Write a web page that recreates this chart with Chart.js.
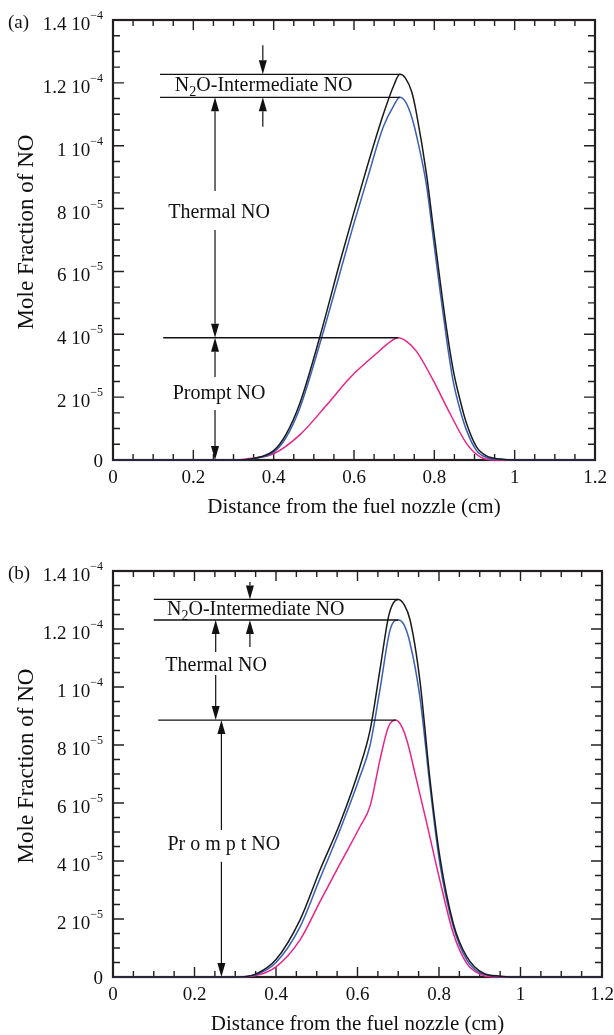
<!DOCTYPE html>
<html>
<head>
<meta charset="utf-8">
<script src="https://cdn.jsdelivr.net/npm/chart.js@4.4.1/dist/chart.umd.min.js"></script>
<style>
  html, body { margin: 0; padding: 0; background: #fff; }
  canvas { display: block; }
</style>
</head>
<body>
<canvas id="chartA" width="614" height="518"></canvas>
<canvas id="chartB" width="614" height="517"></canvas>
<script>
// mole fractions below are in units of 1e-4
const Y_UNIT = 1e-4;

const xTicks = [0, 0.2, 0.4, 0.6, 0.8, 1, 1.2];
const xTickLabels = ["0", "0.2", "0.4", "0.6", "0.8", "1", "1.2"];
const yTicks = [0, 2e-5, 4e-5, 6e-5, 8e-5, 1e-4, 1.2e-4, 1.4e-4];
const yTickMantissa = ["0", "2", "4", "6", "8", "1", "1.2", "1.4"];
const yTickExponent = ["", "\u22125", "\u22125", "\u22125", "\u22125", "\u22124", "\u22124", "\u22124"];

// (a) total NO (black), thermal + prompt (blue), prompt (pink)
const xTotalA = [0, 0.30, 0.35, 0.40, 0.43, 0.465, 0.515, 0.565, 0.598, 0.632, 0.673, 0.70, 0.714, 0.728, 0.744, 0.756, 0.781, 0.797, 0.814, 0.831, 0.847, 0.864, 0.880, 0.905, 0.930, 0.963, 1.0, 1.2];
const yTotalA = [0, 0, 0.005, 0.03, 0.08, 0.18, 0.392, 0.63, 0.78, 0.93, 1.10, 1.195, 1.227, 1.215, 1.17, 1.10, 0.905, 0.742, 0.573, 0.413, 0.286, 0.191, 0.117, 0.042, 0.013, 0.003, 0, 0];
const xThermalA = [0, 0.30, 0.35, 0.40, 0.43, 0.465, 0.515, 0.565, 0.598, 0.632, 0.673, 0.70, 0.714, 0.728, 0.744, 0.756, 0.781, 0.797, 0.814, 0.831, 0.847, 0.864, 0.880, 0.905, 0.930, 0.963, 1.0, 1.2];
const yThermalA = [0, 0, 0.004, 0.025, 0.07, 0.165, 0.37, 0.595, 0.745, 0.89, 1.06, 1.13, 1.154, 1.14, 1.09, 1.03, 0.87, 0.71, 0.54, 0.38, 0.25, 0.16, 0.095, 0.03, 0.008, 0.002, 0, 0];
const xPromptA = [0, 0.30, 0.34, 0.40, 0.465, 0.532, 0.590, 0.656, 0.690, 0.710, 0.730, 0.756, 0.797, 0.839, 0.880, 0.914, 0.95, 1.2];
const yPromptA = [0, 0, 0.005, 0.02, 0.08, 0.175, 0.262, 0.339, 0.376, 0.389, 0.378, 0.345, 0.254, 0.148, 0.053, 0.01, 0, 0];

// (b)
const xTotalB = [0, 0.30, 0.35, 0.40, 0.459, 0.508, 0.557, 0.606, 0.631, 0.655, 0.676, 0.688, 0.70, 0.714, 0.729, 0.753, 0.778, 0.802, 0.835, 0.868, 0.909, 0.95, 1.0, 1.2];
const yTotalB = [0, 0, 0.01, 0.06, 0.197, 0.369, 0.530, 0.725, 0.852, 1.059, 1.242, 1.29, 1.302, 1.285, 1.231, 1.024, 0.679, 0.415, 0.185, 0.070, 0.013, 0.003, 0, 0];
const xThermalB = [0, 0.30, 0.35, 0.40, 0.459, 0.508, 0.557, 0.606, 0.631, 0.655, 0.680, 0.70, 0.714, 0.729, 0.753, 0.778, 0.802, 0.835, 0.868, 0.90, 0.95, 1.0, 1.2];
const yThermalB = [0, 0, 0.008, 0.05, 0.173, 0.34, 0.507, 0.691, 0.80, 0.990, 1.197, 1.231, 1.215, 1.151, 0.967, 0.656, 0.392, 0.174, 0.059, 0.015, 0.002, 0, 0];
const xPromptB = [0, 0.30, 0.35, 0.40, 0.459, 0.508, 0.557, 0.606, 0.631, 0.655, 0.676, 0.694, 0.708, 0.721, 0.745, 0.770, 0.802, 0.835, 0.868, 0.90, 0.93, 1.2];
const yPromptB = [0, 0, 0.005, 0.035, 0.128, 0.26, 0.39, 0.518, 0.59, 0.748, 0.863, 0.886, 0.865, 0.817, 0.679, 0.530, 0.334, 0.151, 0.047, 0.01, 0, 0];

const AXIS_COLOR = "#231f20";
const LINE_COLORS = ["#1a1a1a", "#3a5fb4", "#ec2387"];
const FONT = '"Liberation Serif", "Times New Roman", serif';

function peakOf(xs, ys) {
  const i = ys.indexOf(Math.max(...ys));
  return { x: xs[i], y: ys[i] * Y_UNIT };
}

function drawArrow(ctx, x, y0, y1) {
  const dir = y1 > y0 ? 1 : -1;
  const head = 14, half = 4;
  ctx.beginPath();
  ctx.moveTo(x, y0);
  ctx.lineTo(x, y1 - dir * head);
  ctx.stroke();
  ctx.beginPath();
  ctx.moveTo(x, y1);
  ctx.lineTo(x - half, y1 - dir * head);
  ctx.lineTo(x + half, y1 - dir * head);
  ctx.closePath();
  ctx.fill();
}

// frame, inward ticks and tick labels
const axesPlugin = {
  id: "axesPlugin",
  beforeDatasetsDraw(chart) {
    const { ctx, chartArea: a, scales: { x, y } } = chart;
    ctx.save();
    ctx.strokeStyle = AXIS_COLOR;
    ctx.lineWidth = 1.4;

    const xMinor = (xTicks[1] - xTicks[0]) / 4;
    const nx = Math.round((xTicks[xTicks.length - 1] - xTicks[0]) / xMinor);
    for (let i = 0; i <= nx; i++) {
      const px = x.getPixelForValue(xTicks[0] + i * xMinor);
      const len = i % 4 === 0 ? 10 : 6;
      ctx.beginPath();
      ctx.moveTo(px, a.bottom); ctx.lineTo(px, a.bottom - len);
      ctx.moveTo(px, a.top); ctx.lineTo(px, a.top + len);
      ctx.stroke();
    }
    const yMinor = (yTicks[1] - yTicks[0]) / 4;
    const ny = Math.round((yTicks[yTicks.length - 1] - yTicks[0]) / yMinor);
    for (let i = 0; i <= ny; i++) {
      const py = y.getPixelForValue(yTicks[0] + i * yMinor);
      const len = i % 4 === 0 ? 11 : 7;
      ctx.beginPath();
      ctx.moveTo(a.left, py); ctx.lineTo(a.left + len, py);
      ctx.moveTo(a.right, py); ctx.lineTo(a.right - len, py);
      ctx.stroke();
    }

    ctx.lineWidth = 2.2;
    ctx.strokeRect(a.left, a.top, a.right - a.left, a.bottom - a.top);

    ctx.fillStyle = "#111";
    ctx.font = "19px " + FONT;
    ctx.textAlign = "center";
    ctx.textBaseline = "middle";
    xTicks.forEach((v, i) => {
      ctx.fillText(xTickLabels[i], x.getPixelForValue(v), a.bottom + 18);
    });

    ctx.textBaseline = "alphabetic";
    ctx.textAlign = "left";
    yTicks.forEach((v, i) => {
      const py = y.getPixelForValue(v);
      const right = a.left - 10;
      if (!yTickExponent[i]) {
        ctx.font = "19px " + FONT;
        const w = ctx.measureText(yTickMantissa[i]).width;
        ctx.fillText(yTickMantissa[i], right - w, py + 6.5);
        return;
      }
      ctx.font = "12px " + FONT;
      const sw = ctx.measureText(yTickExponent[i]).width;
      ctx.fillText(yTickExponent[i], right - sw, py - 1);
      ctx.font = "19px " + FONT;
      const main = yTickMantissa[i] + " 10";
      const mw = ctx.measureText(main).width;
      ctx.fillText(main, right - sw - mw, py + 10);
    });

    // axis titles and panel tag
    ctx.font = "21px " + FONT;
    ctx.textAlign = "center";
    ctx.textBaseline = "middle";
    ctx.fillText("Distance from the fuel nozzle (cm)", (a.left + a.right) / 2, a.bottom + 47);
    ctx.save();
    ctx.translate(27, (a.top + a.bottom) / 2 - 8);
    ctx.rotate(-Math.PI / 2);
    ctx.font = "23px " + FONT;
    ctx.fillText("Mole Fraction of NO", 0, 0);
    ctx.restore();
    ctx.font = "19px " + FONT;
    ctx.textAlign = "left";
    ctx.fillText(chart.options.plugins.notes.tag, 8, a.top + 3);
    ctx.restore();
  },
  afterDatasetsDraw(chart) {
    const { ctx, scales: { x, y } } = chart;
    const n = chart.options.plugins.notes;
    const levels = {
      total: n.peaks[0], thermal: n.peaks[1], prompt: n.peaks[2], zero: { y: 0 }
    };
    ctx.save();
    ctx.strokeStyle = "#111";
    ctx.fillStyle = "#111";
    ctx.lineWidth = 1.3;
    n.peaks.forEach((p, i) => {
      const py = y.getPixelForValue(p.y);
      ctx.beginPath();
      ctx.moveTo(x.getPixelForValue(n.lineStart[i]), py);
      ctx.lineTo(x.getPixelForValue(p.x), py);
      ctx.stroke();
    });
    ctx.lineWidth = 1.2;
    n.arrows.forEach(([ax, from, to]) => {
      drawArrow(ctx, x.getPixelForValue(ax), y.getPixelForValue(from * Y_UNIT), y.getPixelForValue(levels[to].y));
    });

    ctx.textBaseline = "middle";
    n.labels.forEach(l => {
      const px = x.getPixelForValue(l.x), py = y.getPixelForValue(l.y * Y_UNIT);
      ctx.font = "20px " + FONT;
      if (l.sub) {
        // N2O with subscript
        const a = "N", b = "O-Intermediate NO";
        ctx.textAlign = "left";
        ctx.fillText(a, px, py);
        let cx = px + ctx.measureText(a).width;
        ctx.font = "14px " + FONT;
        ctx.fillText("2", cx, py + 6);
        cx += ctx.measureText("2").width;
        ctx.font = "20px " + FONT;
        ctx.fillText(b, cx, py);
      } else if (l.spacing) {
        // loosely set "Pr o m p t NO"
        ctx.textAlign = "left";
        const chars = l.text.split("");
        const gap = i => (i >= 1 && i <= 4 ? l.spacing : 0);
        let w = 0;
        chars.forEach((c, i) => { w += ctx.measureText(c).width + gap(i); });
        let cx = px - w / 2;
        chars.forEach((c, i) => {
          ctx.fillText(c, cx, py);
          cx += ctx.measureText(c).width + gap(i);
        });
      } else {
        ctx.textAlign = "center";
        ctx.fillText(l.text, px, py);
      }
    });
    ctx.restore();
  }
};

function buildChart(id, xs, ys, padding, notes) {
  const datasets = xs.map((xv, k) => ({
    data: xv.map((v, i) => ({ x: v, y: ys[k][i] * Y_UNIT })),
    borderColor: LINE_COLORS[k],
    borderWidth: 1.5,
    pointRadius: 0,
    fill: false,
    cubicInterpolationMode: "monotone",
    clip: 4
  }));
  notes.peaks = xs.map((xv, k) => peakOf(xv, ys[k]));
  return new Chart(document.getElementById(id), {
    type: "line",
    data: { datasets },
    options: {
      responsive: false,
      animation: false,
      events: [],
      layout: { padding },
      scales: {
        x: { type: "linear", min: xTicks[0], max: xTicks[xTicks.length - 1], display: false },
        y: { type: "linear", min: yTicks[0], max: yTicks[yTicks.length - 1], display: false }
      },
      plugins: { legend: { display: false }, tooltip: { enabled: false }, notes }
    },
    plugins: [axesPlugin]
  });
}

buildChart("chartA",
  [xTotalA, xThermalA, xPromptA],
  [yTotalA, yThermalA, yPromptA],
  { left: 113, right: 19, top: 20, bottom: 58 },
  {
    tag: "(a)",
    lineStart: [0.117, 0.117, 0.125],
    arrows: [[0.373, 1.32, "total"], [0.373, 1.06, "thermal"], [0.254, 0.856, "thermal"],
             [0.254, 0.732, "prompt"], [0.254, 0.264, "prompt"], [0.254, 0.159, "zero"]],
    labels: [
      { sub: true, x: 0.154, y: 1.19 },
      { text: "Thermal NO", x: 0.264, y: 0.787 },
      { text: "Prompt NO", x: 0.264, y: 0.21 }
    ]
  });

buildChart("chartB",
  [xTotalB, xThermalB, xPromptB],
  [yTotalB, yThermalB, yPromptB],
  { left: 113, right: 12, top: 53, bottom: 58 },
  {
    tag: "(b)",
    lineStart: [0.10, 0.10, 0.111],
    arrows: [[0.336, 1.362, "total"], [0.336, 1.138, "thermal"], [0.252, 1.121, "thermal"],
             [0.252, 1.041, "prompt"], [0.266, 0.507, "prompt"], [0.266, 0.397, "zero"]],
    labels: [
      { sub: true, x: 0.1325, y: 1.265 },
      { text: "Thermal NO", x: 0.253, y: 1.075 },
      { text: "Prompt NO", x: 0.272, y: 0.455, spacing: 5 }
    ]
  });
</script>
</body>
</html>
